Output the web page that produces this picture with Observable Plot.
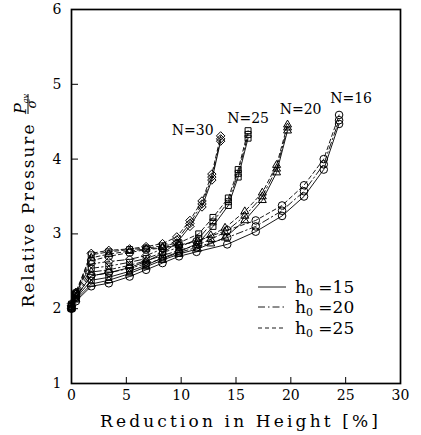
<!DOCTYPE html>
<html>
<head>
<meta charset="utf-8">
<script src="https://cdn.jsdelivr.net/npm/d3@7"></script>
<script src="https://cdn.jsdelivr.net/npm/@observablehq/plot@0.6"></script>
<style>
  html, body { margin: 0; padding: 0; background: white; }
  #chart { width: 421px; height: 435px; }
</style>
</head>
<body>
<div id="chart"></div>
<script>
// ---- tick labels ----
const xTicks = [0, 5, 10, 15, 20, 25, 30];
const yTicks = [1, 2, 3, 4, 5, 6];
const h0Values = [15, 20, 25];
const nValues = [30, 25, 20, 16];

// ---- N = 30 ----
const reductionN30 = [0, 0.4, 1.8, 3.4, 5.3, 6.8, 8.3, 9.6, 10.8, 11.9, 12.8, 13.6];
const pressureN30_h15 = [2.0, 2.16, 2.44, 2.48, 2.55, 2.63, 2.74, 2.88, 3.1, 3.36, 3.72, 4.24];
const pressureN30_h20 = [2.04, 2.2, 2.6, 2.63, 2.66, 2.71, 2.8, 2.92, 3.14, 3.4, 3.76, 4.27];
const pressureN30_h25 = [2.07, 2.22, 2.74, 2.78, 2.8, 2.83, 2.87, 2.96, 3.18, 3.44, 3.8, 4.31];

// ---- N = 25 ----
const reductionN25 = [0, 0.4, 1.8, 3.4, 5.3, 6.8, 8.3, 9.8, 11.6, 12.9, 14.3, 15.2, 16.1];
const pressureN25_h15 = [2.0, 2.14, 2.38, 2.42, 2.5, 2.58, 2.68, 2.76, 2.88, 3.1, 3.38, 3.76, 4.28];
const pressureN25_h20 = [2.03, 2.18, 2.54, 2.57, 2.62, 2.67, 2.75, 2.82, 2.94, 3.16, 3.43, 3.81, 4.33];
const pressureN25_h25 = [2.06, 2.21, 2.72, 2.76, 2.79, 2.81, 2.84, 2.88, 3.0, 3.22, 3.48, 3.86, 4.38];

// ---- N = 20 ----
const reductionN20 = [0, 0.4, 1.8, 3.4, 5.3, 6.8, 8.3, 9.8, 11.5, 12.7, 14.0, 15.8, 17.4, 18.7, 19.7];
const pressureN20_h15 = [2.0, 2.12, 2.33, 2.38, 2.47, 2.56, 2.65, 2.73, 2.8, 2.87, 2.95, 3.18, 3.45, 3.82, 4.38];
const pressureN20_h20 = [2.02, 2.16, 2.49, 2.52, 2.58, 2.64, 2.71, 2.78, 2.85, 2.93, 3.02, 3.24, 3.5, 3.87, 4.42];
const pressureN20_h25 = [2.05, 2.2, 2.68, 2.73, 2.77, 2.8, 2.82, 2.85, 2.9, 2.98, 3.08, 3.3, 3.55, 3.92, 4.46];

// ---- N = 16 ----
const reductionN16 = [0, 0.4, 1.8, 3.4, 5.3, 6.8, 8.3, 9.8, 11.4, 14.2, 16.8, 19.2, 21.2, 23.0, 24.4];
const pressureN16_h15 = [2.0, 2.1, 2.3, 2.34, 2.43, 2.52, 2.61, 2.7, 2.76, 2.86, 3.03, 3.24, 3.5, 3.86, 4.47];
const pressureN16_h20 = [2.02, 2.15, 2.44, 2.48, 2.54, 2.6, 2.67, 2.75, 2.82, 2.95, 3.1, 3.31, 3.57, 3.93, 4.52];
const pressureN16_h25 = [2.04, 2.19, 2.64, 2.7, 2.75, 2.79, 2.81, 2.85, 2.9, 3.05, 3.18, 3.38, 3.65, 4.0, 4.59];

// ---- build table ----
const groups = [
  {N: 30, x: reductionN30, ys: [pressureN30_h15, pressureN30_h20, pressureN30_h25]},
  {N: 25, x: reductionN25, ys: [pressureN25_h15, pressureN25_h20, pressureN25_h25]},
  {N: 20, x: reductionN20, ys: [pressureN20_h15, pressureN20_h20, pressureN20_h25]},
  {N: 16, x: reductionN16, ys: [pressureN16_h15, pressureN16_h20, pressureN16_h25]}
];
const rows = [];
for (const g of groups) {
  g.ys.forEach((ys, k) => {
    ys.forEach((y, i) => rows.push({N: g.N, h0: h0Values[k], x: g.x[i], y, key: g.N + "-" + h0Values[k]}));
  });
}
const ends = groups.map(g => {
  const last = g.x.length - 1;
  return {N: g.N, x: g.x[last], y: g.ys[2][last], label: "N=" + g.N};
});

const dashes = {15: null, 20: "7,3,1.5,3", 25: "4,3"};
const FONT = "DejaVu Serif";

const lineMarks = h0Values.map(h => Plot.line(rows.filter(d => d.h0 === h), {
  x: "x", y: "y", z: "key", stroke: "black", strokeWidth: 0.9,
  strokeDasharray: dashes[h]
}));

const labelOffsets = {30: {dx: -28, dy: -5}, 25: {dx: 0, dy: -12}, 20: {dx: 13, dy: -15}, 16: {dx: 12, dy: -16}};
const labelMarks = ends.map(e => Plot.text([e], {
  x: "x", y: "y", text: "label", dx: labelOffsets[e.N].dx, dy: labelOffsets[e.N].dy,
  fontSize: 14, fontFamily: FONT, fill: "black"
}));

const innerW = 421 - 71 - 21;
const innerH = 435 - 9 - 52;

const plot = Plot.plot({
  width: 421, height: 435,
  marginLeft: 71, marginRight: 21, marginTop: 9, marginBottom: 52,
  x: {domain: [0, 30], label: null},
  y: {domain: [1, 6], label: null},
  symbol: {domain: nValues, range: ["diamond2", "square2", "triangle2", "circle"]},
  style: {fontFamily: FONT, fontSize: "14px", background: "white", color: "black"},
  marks: [
    Plot.tickX(xTicks.slice(1, -1), {x: d => d, insetTop: innerH - 6, stroke: "black", strokeWidth: 1}),
    Plot.tickY(yTicks.slice(1, -1), {y: d => d, insetRight: innerW - 7, stroke: "black", strokeWidth: 1}),
    Plot.axisX({ticks: xTicks, tickSize: 0, tickPadding: 7, fontSize: 14, tickFormat: d => String(d)}),
    Plot.axisY({ticks: yTicks, tickSize: 0, tickPadding: 10, fontSize: 14, tickFormat: d => String(d)}),
    ...lineMarks,
    Plot.dot(rows, {x: "x", y: "y", symbol: "N", r: 3.8, stroke: "black", strokeWidth: 1, fill: "none"}),
    ...labelMarks,
    Plot.frame({stroke: "black", strokeWidth: 1.7})
  ]
});
document.getElementById("chart").appendChild(plot);

// ---- axis titles and legend ----
const svg = d3.select(plot);
svg.append("text")
  .attr("x", 239).attr("y", 427)
  .attr("text-anchor", "middle")
  .attr("font-family", FONT).attr("font-size", 17)
  .attr("textLength", 278).attr("lengthAdjust", "spacing")
  .text("Reduction in Height [%]");

svg.append("text")
  .attr("transform", "translate(34,216) rotate(-90)")
  .attr("text-anchor", "middle")
  .attr("font-family", FONT).attr("font-size", 17)
  .attr("textLength", 183).attr("lengthAdjust", "spacing")
  .text("Relative Pressure");

const frac = svg.append("g").attr("transform", "translate(27.5,104) rotate(-90)");
const num = frac.append("text").attr("x", 0).attr("y", -2).attr("text-anchor", "middle")
  .attr("font-family", FONT).attr("font-size", 16).attr("font-style", "italic");
num.append("tspan").text("P");
num.append("tspan").attr("font-size", 8).attr("dy", 2).text("av");
frac.append("line").attr("x1", -10).attr("x2", 10).attr("y1", 0.5).attr("y2", 0.5)
  .attr("stroke", "black").attr("stroke-width", 1);
frac.append("text").attr("x", 0).attr("y", 8.5).attr("text-anchor", "middle")
  .attr("font-family", FONT).attr("font-size", 13).attr("font-style", "italic").text("σ");

const legendRows = [287, 307, 328];
h0Values.forEach((h, i) => {
  const y = legendRows[i];
  const ln = svg.append("line").attr("x1", 258).attr("x2", 286).attr("y1", y).attr("y2", y)
    .attr("stroke", "black").attr("stroke-width", 0.9);
  if (dashes[h]) ln.attr("stroke-dasharray", dashes[h]);
  const t = svg.append("text").attr("x", 295).attr("y", y + 6)
    .attr("text-anchor", "start")
    .attr("font-family", FONT).attr("font-size", 17);
  t.append("tspan").text("h");
  t.append("tspan").attr("font-size", 11).attr("dy", 3).text("0");
  t.append("tspan").attr("dy", -3).text(" =" + h);
});
</script>
</body>
</html>
